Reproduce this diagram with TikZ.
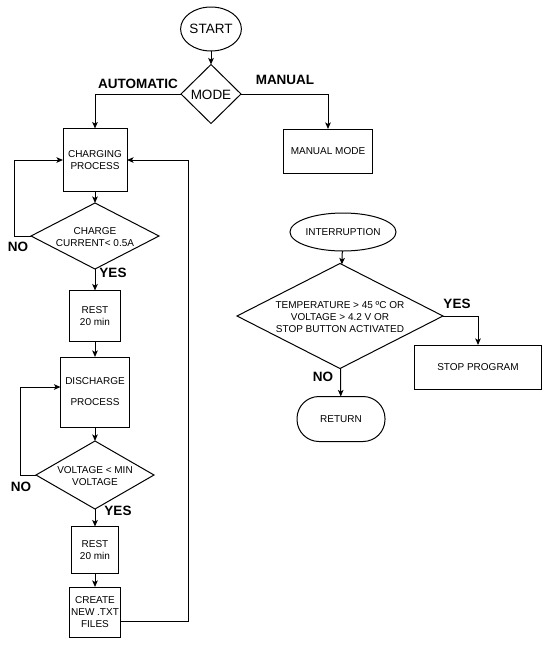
\documentclass[tikz,border=0pt]{standalone}
\usepackage{fontspec}
\setmainfont{Liberation Sans}
\usetikzlibrary{shapes.geometric,arrows.meta}
\newcommand{\ctxt}[1]{\smash{\makebox[0pt]{\raisebox{-0.45em}{\begin{tabular}{@{}c@{}}#1\end{tabular}}}}}
\begin{document}
\begin{tikzpicture}[x=1pt,y=-1pt,
  every node/.style={font=\fontsize{10}{12}\selectfont, inner sep=0pt, outer sep=0pt},
  ln/.style={line width=1pt, draw=black},
  arr/.style={ln, -{Stealth[length=6.5pt,width=5.5pt,inset=1.5pt]}},
  box/.style={ln, rectangle, align=center},
  ell/.style={ln, ellipse},
  dia/.style={ln, diamond},
  big/.style={font=\fontsize{13.5}{14}\selectfont},
  lbl/.style={font=\fontsize{13.5}{14}\selectfont\bfseries}]
\useasboundingbox[fill=white] (0,0) rectangle (550,646);

\node[ell, big, minimum width=59pt, minimum height=44pt] (start) at (211,29) {START};
\node[dia, big, minimum width=60pt, minimum height=59pt] (mode) at (211,94) {\ctxt{MODE}};
\node[box, minimum width=89pt, minimum height=44pt] (manual) at (328,151) {MANUAL MODE};

\node[box, minimum width=64pt, minimum height=63pt] (charging) at (95,160) {CHARGING\\PROCESS};
\node[dia, minimum width=128pt, minimum height=66pt] (chdia) at (95,236) {\ctxt{CHARGE\\CURRENT< 0.5A}};
\node[box, minimum width=51pt, minimum height=51pt] (rest1) at (95,316) {REST\\20 min};
\node[box, minimum width=69pt, minimum height=70pt, font=\fontsize{10}{21}\selectfont] (discharge) at (95,392) {DISCHARGE\\PROCESS};
\node[dia, minimum width=118pt, minimum height=68pt] (vdia) at (95,475) {\ctxt{VOLTAGE < MIN\\VOLTAGE}};
\node[box, minimum width=47pt, minimum height=47pt] (rest2) at (95,550) {REST\\20 min};
\node[box, minimum width=51pt, minimum height=50pt] (create) at (95,612) {CREATE\\NEW .TXT\\FILES};

\node[ell, minimum width=88pt, minimum height=38pt] (intr) at (343,232) {INTERRUPTION};
\node[dia, minimum width=206pt, minimum height=105pt] (bigdia) at (340,316) {\ctxt{TEMPERATURE > 45 ºC OR\\VOLTAGE > 4.2 V OR\\STOP BUTTON ACTIVATED}};
\node[box, minimum width=127pt, minimum height=44pt] (stop) at (478,367) {STOP PROGRAM};
\node[ln, rectangle, rounded corners=22pt, minimum width=88pt, minimum height=45pt] (ret) at (341,419) {RETURN};

\node[lbl] (lauto) at (138,84) {AUTOMATIC};
\node[lbl] (lman) at (285,80) {MANUAL};
\node[lbl] (lno1) at (18,247) {NO};
\node[lbl] (lyes1) at (113,273) {YES};
\node[lbl] (lno2) at (21,487) {NO};
\node[lbl] (lyes2) at (118,511) {YES};
\node[lbl] (lyes3) at (457,304) {YES};
\node[lbl] (lno3) at (323,377) {NO};

\draw[arr] (start) -- (mode);
\draw[arr] (mode.west) -| (charging.north);
\draw[arr] (mode.east) -| (manual.north);
\draw[arr] (charging) -- (chdia);
\draw[arr] (chdia.west) -- ++(-17,0) |- (charging.west);
\draw[arr] (chdia) -- (rest1);
\draw[arr] (rest1) -- (discharge);
\draw[arr] (discharge) -- (vdia);
\draw[arr] (vdia.west) -- ++(-16,0) |- ([yshift=5pt]discharge.west);
\draw[arr] (vdia) -- (rest2);
\draw[arr] (rest2) -- (create);
\draw[arr] ([yshift=-9pt]create.east) -- ++(68,0) |- (charging.east);
\draw[arr] (intr) -- (bigdia);
\draw[arr] (bigdia.east) -| (stop.north);
\draw[arr] (bigdia) -- (ret);
\end{tikzpicture}
\end{document}
